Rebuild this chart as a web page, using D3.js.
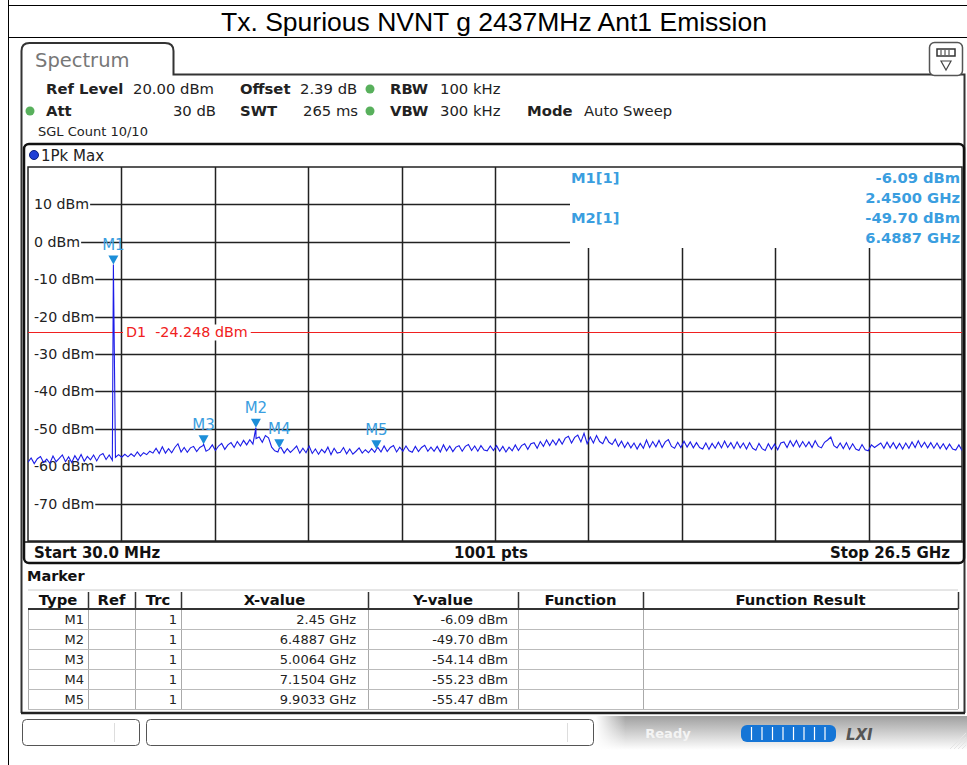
<!DOCTYPE html>
<html>
<head>
<meta charset="utf-8">
<title>Tx. Spurious NVNT g 2437MHz Ant1 Emission</title>
<script src="https://cdn.jsdelivr.net/npm/d3@7"></script>
<style>
  body { margin: 0; background: #fff; }
  svg { display: block; }
</style>
</head>
<body>
<svg width="967" height="765" id="mainsvg"></svg>
<script>
// ---- data ----
const title = 'Tx. Spurious NVNT g 2437MHz Ant1 Emission';
const startGHz = 0.03, stopGHz = 26.5;
const topLevel = 20, bottomLevel = -80;
const yTicks = [10, 0, -10, -20, -30, -40, -50, -60, -70];
const d1Level = -24.248;
const markerNames = ['M1', 'M2', 'M3', 'M4', 'M5'];
const markerFreqs = [2.45, 6.4887, 5.0064, 7.1504, 9.9033];
const markerLevels = [-6.09, -49.70, -54.14, -55.23, -55.47];
const markerXText = ['2.45 GHz', '6.4887 GHz', '5.0064 GHz', '7.1504 GHz', '9.9033 GHz'];
const tableHeaders = ['Type', 'Ref', 'Trc', 'X-value', 'Y-value', 'Function', 'Function Result'];
// max-hold trace, 300 samples evenly spread from start to stop
const traceLevels = [
  -58.9,-57.8,-59.3,-58.0,-57.4,-59.0,-58.1,-59.2,-57.3,-58.8,
  -57.9,-57.0,-58.8,-57.5,-59.0,-57.2,-58.5,-56.9,-58.7,-57.4,
  -58.3,-57.0,-58.6,-57.1,-56.6,-58.2,-57.0,-58.4,-57.6,-56.9,
  -57.6,-56.8,-57.5,-56.7,-57.4,-56.2,-57.3,-56.4,-56.9,-56.0,
  -56.5,-55.2,-56.6,-54.8,-56.5,-55.3,-56.4,-55.0,-54.0,-56.2,
  -55.0,-56.3,-55.1,-54.7,-56.1,-55.0,-54.5,-56.0,-55.5,-54.3,
  -55.8,-54.6,-53.9,-55.5,-54.3,-53.7,-55.0,-53.4,-54.6,-53.1,
  -54.3,-52.9,-54.1,-52.6,-52.2,-53.6,-51.8,-52.4,-54.9,-55.9,
  -56.2,-55.0,-56.5,-55.3,-56.3,-55.5,-54.6,-56.5,-55.2,-56.4,
  -54.6,-56.6,-55.4,-56.8,-55.5,-56.4,-54.9,-56.9,-55.2,-56.5,
  -56.3,-55.0,-56.7,-55.4,-56.8,-56.0,-55.1,-56.5,-55.6,-56.4,
  -55.3,-56.3,-55.0,-56.2,-54.6,-56.1,-55.0,-54.5,-56.2,-54.9,
  -56.0,-54.6,-55.9,-56.3,-54.7,-56.1,-55.0,-54.4,-56.0,-54.9,
  -56.0,-54.7,-56.2,-54.3,-55.9,-54.6,-56.1,-54.9,-54.5,-56.0,
  -54.7,-54.2,-55.8,-54.6,-56.0,-54.5,-55.7,-55.9,-54.6,-55.8,
  -54.5,-56.0,-54.7,-56.2,-54.9,-55.9,-54.3,-55.8,-54.5,-54.0,
  -55.5,-54.0,-53.7,-55.2,-53.4,-54.7,-53.0,-54.5,-53.0,-54.3,
  -52.7,-54.1,-52.5,-52.0,-53.8,-52.3,-51.7,-53.5,-51.2,-54.0,
  -52.2,-53.8,-51.8,-53.4,-54.0,-52.1,-53.6,-54.2,-52.8,-54.7,
  -53.3,-55.0,-53.6,-55.1,-53.8,-55.4,-53.9,-55.2,-53.0,-55.0,
  -53.4,-54.8,-53.1,-55.0,-53.5,-52.9,-54.7,-55.2,-53.6,-55.0,
  -53.3,-54.9,-53.5,-55.1,-53.7,-55.0,-55.4,-53.8,-55.5,-53.9,
  -55.2,-53.6,-55.1,-53.3,-55.0,-53.7,-55.3,-53.5,-55.1,-53.8,
  -55.4,-53.7,-55.2,-55.7,-53.9,-55.3,-55.8,-54.0,-55.5,-54.1,
  -55.6,-53.8,-53.5,-55.0,-53.2,-54.7,-53.1,-54.9,-53.4,-54.8,
  -53.5,-55.0,-53.2,-54.7,-55.1,-53.6,-53.0,-52.2,-54.5,-55.1,
  -53.8,-55.3,-53.7,-55.5,-54.0,-55.4,-55.8,-54.2,-55.6,-55.9,
  -54.3,-55.0,-54.4,-53.8,-55.2,-53.6,-55.1,-53.7,-55.3,-53.9,
  -55.4,-53.8,-55.2,-53.5,-55.0,-53.2,-54.9,-53.6,-55.1,-53.7,
  -55.2,-53.8,-55.3,-54.0,-55.5,-54.1,-55.4,-55.7,-54.3,-55.8
];

const svg = d3.select('#mainsvg');
const FONT = "'DejaVu Sans', Verdana, sans-serif";
const blueText = '#3a9ee0';
const markerBlue = '#1c8ed8';
const dbm = v => `${v.toFixed(2)} dBm`;

// ---- outer report frame + title ----
svg.append('line').attr('x1', 8.5).attr('x2', 8.5).attr('y1', 0).attr('y2', 765).attr('stroke', '#000');
svg.append('line').attr('x1', 8).attr('x2', 967).attr('y1', 5.5).attr('y2', 5.5).attr('stroke', '#000');
svg.append('line').attr('x1', 8).attr('x2', 967).attr('y1', 37.5).attr('y2', 37.5).attr('stroke', '#000');
svg.append('text').text(title)
  .attr('x', 494).attr('y', 31)
  .attr('text-anchor', 'middle')
  .attr('font-family', "'Liberation Sans', Arial, sans-serif")
  .attr('font-size', 26.5).attr('fill', '#000');

// ---- instrument panel and tab ----
svg.append('path')
  .attr('d', 'M21.5,713 V51 Q21.5,43 29.5,43 H165 Q173.5,43 173.5,51 V74.5 H964.5 V713')
  .attr('fill', 'none').attr('stroke', '#333').attr('stroke-width', 2);
svg.append('text').text('Spectrum').attr('x', 35).attr('y', 67)
  .attr('font-family', FONT).attr('font-size', 19.5).attr('fill', '#777');
// small icon top-right
svg.append('rect').attr('x', 929.5).attr('y', 42.5).attr('width', 33).attr('height', 33).attr('rx', 5)
  .attr('fill', '#fff').attr('stroke', '#555').attr('stroke-width', 1.5);
svg.append('rect').attr('x', 937).attr('y', 49).attr('width', 18).attr('height', 7)
  .attr('fill', '#fff').attr('stroke', '#333').attr('stroke-width', 1.5);
[941, 945, 949].forEach(x => svg.append('line').attr('x1', x).attr('x2', x).attr('y1', 50).attr('y2', 55).attr('stroke', '#333'));
svg.append('path').attr('d', 'M941,61 L951,61 L946,70 Z').attr('fill', 'none').attr('stroke', '#444').attr('stroke-width', 1.2);

// ---- settings text ----
const settings = [
  {t: 'Ref Level', x: 46, y: 94, b: true},
  {t: '20.00 dBm', x: 133, y: 94},
  {t: 'Offset', x: 240, y: 94, b: true},
  {t: '2.39 dB', x: 300, y: 94},
  {t: 'RBW', x: 390, y: 94, b: true},
  {t: '100 kHz', x: 440, y: 94},
  {t: 'Att', x: 46, y: 116, b: true},
  {t: '30 dB', x: 216, y: 116, a: 'end'},
  {t: 'SWT', x: 240, y: 116, b: true},
  {t: '265 ms', x: 303, y: 116},
  {t: 'VBW', x: 390, y: 116, b: true},
  {t: '300 kHz', x: 440, y: 116},
  {t: 'Mode', x: 527, y: 116, b: true},
  {t: 'Auto Sweep', x: 584, y: 116},
  {t: 'SGL Count 10/10', x: 38, y: 136, s: 13}
];
svg.selectAll('text.setting').data(settings).join('text').attr('class', 'setting')
  .text(d => d.t).attr('x', d => d.x).attr('y', d => d.y)
  .attr('text-anchor', d => d.a || 'start')
  .attr('font-family', FONT).attr('font-size', d => d.s || 14.8)
  .attr('font-weight', d => d.b ? 'bold' : 'normal').attr('fill', '#222');
[[370, 89], [30, 111], [370, 111]].forEach(p => {
  svg.append('circle').attr('cx', p[0]).attr('cy', p[1]).attr('r', 4.5).attr('fill', '#58b05c');
});

// ---- diagram frame ----
svg.append('rect').attr('x', 24).attr('y', 144).attr('width', 940).attr('height', 419).attr('rx', 5)
  .attr('fill', '#fff').attr('stroke', '#111').attr('stroke-width', 2.5);
svg.append('circle').attr('cx', 34).attr('cy', 155).attr('r', 4.5).attr('fill', '#1f3fd6').attr('stroke', '#0a1f80');
svg.append('text').text('1Pk Max').attr('x', 41).attr('y', 160.5)
  .attr('font-family', FONT).attr('font-size', 15).attr('fill', '#222');

const gx0 = 28, gx1 = 962, gy0 = 167, gy1 = 541;
const xScale = d3.scaleLinear().domain([startGHz, stopGHz]).range([gx0, gx1]);
const yScale = d3.scaleLinear().domain([bottomLevel, topLevel]).range([gy1, gy0]);

const g = svg.append('g');
g.append('rect').attr('x', gx0).attr('y', gy0).attr('width', gx1 - gx0).attr('height', gy1 - gy0)
  .attr('fill', 'none').attr('stroke', '#222').attr('stroke-width', 1.5);

// vertical grid (10 divisions)
const divGHz = (stopGHz - startGHz) / 10;
const infoX = 570, infoY = 248;
d3.range(1, 10).forEach(k => {
  const x = Math.round(xScale(startGHz + k * divGHz)) + 0.5;
  g.append('line').attr('x1', x).attr('x2', x)
    .attr('y1', x > infoX ? infoY : gy0).attr('y2', gy1)
    .attr('stroke', '#222').attr('stroke-width', 1.5);
});

// horizontal grid with level labels
yTicks.forEach(v => {
  const y = Math.round(yScale(v)) + 0.5;
  const lbl = g.append('text').text(`${v} dBm`).attr('x', 34).attr('y', y)
    .attr('dominant-baseline', 'middle')
    .attr('font-family', FONT).attr('font-size', 14.2).attr('fill', '#222');
  const w = lbl.node().getComputedTextLength();
  g.insert('line', 'text').attr('x1', 34 + w + 1).attr('x2', v >= 0 ? infoX : gx1)
    .attr('y1', y).attr('y2', y)
    .attr('stroke', '#222').attr('stroke-width', 1.5);
});

// D1 display line
const yD1 = Math.round(yScale(d1Level)) + 0.5;
g.append('line').attr('x1', gx0).attr('x2', gx1).attr('y1', yD1).attr('y2', yD1)
  .attr('stroke', '#f02020').attr('stroke-width', 1.2);
const d1Text = g.append('text').text(`D1  ${d1Level} dBm`).attr('x', 126).attr('y', yD1)
  .attr('dominant-baseline', 'middle')
  .style('white-space', 'pre')
  .attr('font-family', FONT).attr('font-size', 14.3).attr('fill', '#f02020');
const d1w = d1Text.node().getComputedTextLength();
g.append('rect').attr('x', 123).attr('y', yD1 - 8).attr('width', d1w + 6).attr('height', 16).attr('fill', '#fff');
d1Text.raise();

// trace: even samples plus the marker peaks
const step = (stopGHz - startGHz) / (traceLevels.length - 1);
const tracePts = traceLevels.map((v, i) => [startGHz + i * step, v])
  .concat(markerFreqs.map((f, i) => [f, markerLevels[i]]))
  .sort((a, b) => a[0] - b[0]);
svg.append('clipPath').attr('id', 'gridclip').append('rect')
  .attr('x', gx0).attr('y', gy0).attr('width', gx1 - gx0).attr('height', gy1 - gy0);
g.append('path').datum(tracePts)
  .attr('clip-path', 'url(#gridclip)')
  .attr('d', d3.line().x(d => xScale(d[0])).y(d => yScale(d[1])))
  .attr('fill', 'none').attr('stroke', '#1c1ce8').attr('stroke-width', 1.1);

// markers
markerNames.forEach((m, i) => {
  const x = xScale(markerFreqs[i]), y = yScale(markerLevels[i]);
  g.append('path').attr('d', `M${x - 5},${y - 9} L${x + 5},${y - 9} L${x},${y} Z`).attr('fill', markerBlue);
  g.append('text').text(m).attr('x', x).attr('y', y - 19)
    .attr('text-anchor', 'middle').attr('dominant-baseline', 'middle')
    .attr('font-family', FONT).attr('font-size', 15).attr('fill', blueText);
});

// marker info box (top right)
g.append('rect').attr('x', infoX + 1).attr('y', gy0 + 1).attr('width', gx1 - infoX - 2).attr('height', infoY - gy0 - 1).attr('fill', '#fff');
const infoStyle = s => s.attr('font-family', FONT).attr('font-size', 14.7).attr('font-weight', 'bold').attr('fill', blueText);
[0, 1].forEach(i => {
  const y = 183 + i * 40;
  g.append('text').text(`${markerNames[i]}[1]`).attr('x', 571).attr('y', y).call(infoStyle);
  g.append('text').text(dbm(markerLevels[i])).attr('x', 960).attr('y', y)
    .attr('text-anchor', 'end').call(infoStyle);
  g.append('text').text(`${markerFreqs[i].toFixed(4)} GHz`).attr('x', 960).attr('y', y + 20)
    .attr('text-anchor', 'end').call(infoStyle);
});

// footer of the diagram
g.append('line').attr('x1', 24).attr('x2', 964).attr('y1', gy1 + 1).attr('y2', gy1 + 1).attr('stroke', '#111').attr('stroke-width', 1.5);
const footStyle = s => s.attr('font-family', FONT).attr('font-size', 15).attr('font-weight', 'bold').attr('fill', '#111');
g.append('text').text(`Start ${(startGHz * 1000).toFixed(1)} MHz`).attr('x', 34).attr('y', 557.5).call(footStyle);
g.append('text').text(`${1001} pts`).attr('x', 491).attr('y', 557.5).attr('text-anchor', 'middle').call(footStyle);
g.append('text').text(`Stop ${stopGHz} GHz`).attr('x', 950).attr('y', 557.5).attr('text-anchor', 'end').call(footStyle);

// ---- marker table ----
const tbl = svg.append('g');
tbl.append('text').text('Marker').attr('x', 27).attr('y', 581)
  .attr('font-family', FONT).attr('font-size', 14.5).attr('font-weight', 'bold').attr('fill', '#111');
const colEdges = [28, 88, 135, 181, 368, 518, 643, 958];
const headY0 = 590, headY1 = 609, rowH = 20;
tbl.append('line').attr('x1', 28).attr('x2', 958).attr('y1', headY0).attr('y2', headY0).attr('stroke', '#ccc');
tableHeaders.forEach((h, i) => {
  tbl.append('text').text(h).attr('x', (colEdges[i] + colEdges[i + 1]) / 2).attr('y', 604.5)
    .attr('text-anchor', 'middle')
    .attr('font-family', FONT).attr('font-size', 14.8).attr('font-weight', 'bold').attr('fill', '#111');
});
colEdges.slice(1).forEach(x => {
  tbl.append('line').attr('x1', x + 0.5).attr('x2', x + 0.5).attr('y1', headY0 + 2).attr('y2', headY1)
    .attr('stroke', '#333').attr('stroke-width', 1.5);
});
colEdges.forEach(x => {
  tbl.append('line').attr('x1', x + 0.5).attr('x2', x + 0.5).attr('y1', headY1).attr('y2', headY1 + rowH * 5)
    .attr('stroke', '#aaa');
});
tbl.append('line').attr('x1', 28).attr('x2', 958).attr('y1', headY1).attr('y2', headY1).attr('stroke', '#333').attr('stroke-width', 2);
markerNames.forEach((m, i) => {
  const y0 = headY1 + i * rowH;
  tbl.append('line').attr('x1', 28).attr('x2', 958).attr('y1', y0 + rowH + 0.5).attr('y2', y0 + rowH + 0.5).attr('stroke', '#bbb');
  const cells = [[m, 84], ['1', 177], [markerXText[i], 356], [dbm(markerLevels[i]), 508]];
  cells.forEach(c => {
    tbl.append('text').text(c[0]).attr('x', c[1]).attr('y', y0 + 15)
      .attr('text-anchor', 'end')
      .attr('font-family', FONT).attr('font-size', 13).attr('fill', '#222');
  });
});
tbl.append('line').attr('x1', 21).attr('x2', 965).attr('y1', 713).attr('y2', 713).attr('stroke', '#222').attr('stroke-width', 2.5);

// ---- status bar ----
const defs = svg.append('defs');
const grad = defs.append('linearGradient').attr('id', 'statusgrad').attr('x1', 0).attr('x2', 0).attr('y1', 0).attr('y2', 1);
grad.append('stop').attr('offset', '0%').attr('stop-color', '#a0a0a0');
grad.append('stop').attr('offset', '100%').attr('stop-color', '#fff');
const hgrad = defs.append('linearGradient').attr('id', 'statusfade').attr('x1', 0).attr('x2', 1).attr('y1', 0).attr('y2', 0);
hgrad.append('stop').attr('offset', '0%').attr('stop-color', '#fff').attr('stop-opacity', 1);
hgrad.append('stop').attr('offset', '8%').attr('stop-color', '#fff').attr('stop-opacity', 0);
svg.append('rect').attr('x', 596).attr('y', 716).attr('width', 371).attr('height', 34).attr('fill', 'url(#statusgrad)');
svg.append('rect').attr('x', 596).attr('y', 716).attr('width', 371).attr('height', 34).attr('fill', 'url(#statusfade)');
svg.append('rect').attr('x', 22.5).attr('y', 719.5).attr('width', 117).attr('height', 26).attr('rx', 4)
  .attr('fill', '#fff').attr('stroke', '#555');
svg.append('line').attr('x1', 114.5).attr('x2', 114.5).attr('y1', 723).attr('y2', 742).attr('stroke', '#ddd');
svg.append('rect').attr('x', 146.5).attr('y', 719.5).attr('width', 447).attr('height', 26).attr('rx', 4)
  .attr('fill', '#fff').attr('stroke', '#555');
svg.append('line').attr('x1', 567.5).attr('x2', 567.5).attr('y1', 723).attr('y2', 742).attr('stroke', '#ddd');
svg.append('text').text('Ready').attr('x', 668).attr('y', 738).attr('text-anchor', 'middle')
  .attr('font-family', FONT).attr('font-size', 13).attr('font-weight', 'bold').attr('fill', '#f4f4f4');
svg.append('rect').attr('x', 741).attr('y', 725).attr('width', 95).attr('height', 17).attr('rx', 6).attr('fill', '#1575d6');
d3.range(1, 9).forEach(k => {
  svg.append('line').attr('x1', 741 + k * 10.5).attr('x2', 741 + k * 10.5).attr('y1', 727).attr('y2', 740)
    .attr('stroke', '#fff').attr('stroke-width', 1.2);
});
svg.append('text').text('LXI').attr('x', 846).attr('y', 740)
  .attr('font-family', FONT).attr('font-size', 15).attr('font-weight', 'bold').attr('font-style', 'italic')
  .attr('fill', '#555');
d3.range(0, 4).forEach(k => {
  svg.append('line').attr('x1', 950 + k * 4).attr('x2', 966).attr('y1', 749).attr('y2', 733 + k * 4)
    .attr('stroke', '#e4e4e4');
});
</script>
</body>
</html>
